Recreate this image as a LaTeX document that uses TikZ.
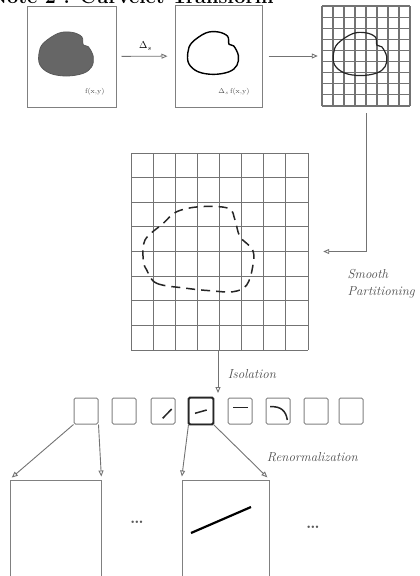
\documentclass[tikz,border=0pt]{standalone}
\usepackage{amsmath}
\usepackage{tikz}
\usetikzlibrary{arrows.meta}

\tikzset{
  imgbox/.style={draw=black!50, line width=1pt, inner sep=0pt},
  tile/.style={draw=black!50, line width=1pt, rounded corners=1.5pt, inner sep=0pt,
    minimum width=24pt, minimum height=26pt},
  arr/.style={->, draw=black!55, line width=0.9pt},
  gridline/.style={draw=black!55, line width=0.9pt},
  lbl/.style={font=\fontsize{13}{17}\selectfont\itshape, text=black!70},
  small/.style={font=\fontsize{7}{8}\selectfont, text=black!70},
  blob/.pic={
    \path[pic actions] plot[smooth cycle, tension=0.6] coordinates
      {(-22.7,-11.7) (-7.7,-21.7) (5.7,-22.7) (15.7,-18.3) (17.3,-10) (22.3,-8.3)
       (27.3,1.7) (25.7,11.7) (17.3,18.3) (0.7,21) (-16,18.3) (-26,10) (-27,-1.7)};
  }
}

\begin{document}
\begin{tikzpicture}[x=1pt,y=-1pt,>={Triangle[open,length=6pt,width=5pt]}]
    \useasboundingbox (0,0) rectangle (420,576);
    \node[anchor=base west, font=\bfseries\fontsize{20}{22}\selectfont] (title) at (-14,3)
        {Note 2 : Curvelet Transform};
    % image, its Laplacian and the subband grid
    \node[imgbox, minimum width=89pt, minimum height=101pt] (f) at (71.5,56.5) {};
    \pic[fill=black!60, draw=black!65, line width=0.8pt] at (66,55) {blob};
    \node[small, anchor=base east] (flab) at (108,93) {f(x,y)};
    \node[imgbox, minimum width=87pt, minimum height=102pt] (lap) at (218.5,56) {};
    \pic[draw=black, line width=1.4pt, xscale=0.93, yscale=0.97] at (213,54) {blob};
    \node[small, anchor=base east] (laplab) at (253,93) {$\Delta_s$\,f(x,y)};
    \node[inner sep=0pt, minimum width=88pt, minimum height=100pt] (g3) at (366,56) {};
    \foreach \i in {0,...,8}{
        \draw[gridline, line width=1.2pt] (322+\i*11,6) -- (322+\i*11,106);
    }
    \foreach \j in {0,...,9}{
        \draw[gridline, line width=1.2pt] (322,6+\j*11.11) -- (410,6+\j*11.11);
    }
    \pic[draw=black!85, line width=1.2pt, scale=0.98] at (360,55) {blob};
    \draw[arr, shorten <=5pt, shorten >=7pt] (f) -- node[above=2pt] {$\Delta_s$} (lap);
    \draw[arr, shorten <=6pt, shorten >=4pt] (lap) -- (g3);
    % smooth partitioning
    \node[inner sep=0pt, minimum width=177pt, minimum height=197pt] (big) at (219.5,251.5) {};
    \foreach \i in {0,...,8}{
        \draw[gridline] (131+\i*22.125,153) -- (131+\i*22.125,350);
        \draw[gridline] (131,153+\i*24.625) -- (308,153+\i*24.625);
    }
    \draw[black!85, line width=1.5pt, dash pattern=on 9pt off 6pt]
        plot[smooth cycle, tension=0.6] coordinates
        {(146.7,270) (156.7,283.3) (186.7,288.3) (210,290.7) (233.3,291.7)
         (246.7,285) (252.7,266.7) (252.7,250) (240,236.7) (235,220)
         (228.3,208.3) (200,206.7) (176.7,211.7) (163.3,223.3) (145,240) (143.3,260)};
    \coordinate (g3out) at ([yshift=-7pt]g3.south);
    \draw[arr] (g3out) |- ([xshift=15pt]big.east);
    \node[lbl, align=left, anchor=north west] (smooth) at (344,266) {Smooth\\Partitioning};
    % isolation into tiles
    \coordinate (iso) at (218,393);
    \draw[arr] (big.south -| iso) -- node[lbl, right=6pt, pos=0.55] {Isolation} (iso);
    \foreach \i/\xc in {1/86,2/124,3/163,4/201,5/240,6/278,7/316,8/351}{
        \node[tile] (t\i) at (\xc,411) {};
    }
    \draw[black!85, line width=1.8pt, rounded corners=1.5pt] (t4.north west) rectangle (t4.south east);
    \draw[black!85, line width=1.5pt] (162.7,418.3) -- (171.7,409);
    \draw[black!85, line width=1.5pt] (195,413.3) -- (206.7,410);
    \draw[black!85, line width=1.5pt] (233.3,407.7) -- (248.3,407.7);
    \draw[black!85, line width=1.5pt] (270,406.7) .. controls (281,406) and (286,411) .. (287.3,420);
    % renormalization
    \node[imgbox, minimum width=91pt, minimum height=130pt] (ra) at (55.5,545) {};
    \node[imgbox, minimum width=87pt, minimum height=130pt] (rb) at (225.5,545) {};
    \draw[arr, shorten >=3pt] (t1.south west) -- (ra.north west);
    \draw[arr, shorten >=3pt] (t1.south east) -- (ra.north east);
    \draw[arr, shorten >=3pt] (t4.south west) -- (rb.north west);
    \draw[arr, shorten >=3pt] (t4.south east) -- node[lbl, right=16pt, pos=0.6] {Renormalization} (rb.north east);
    \draw[black, line width=2.2pt] (191,533) -- (251,507);
    \node[font=\bfseries\fontsize{17}{19}\selectfont, text=black!65] (d1) at (137,522) {\dots};
    \node[font=\bfseries\fontsize{17}{19}\selectfont, text=black!65] (d2) at (313,527) {\dots};
\end{tikzpicture}
\end{document}
